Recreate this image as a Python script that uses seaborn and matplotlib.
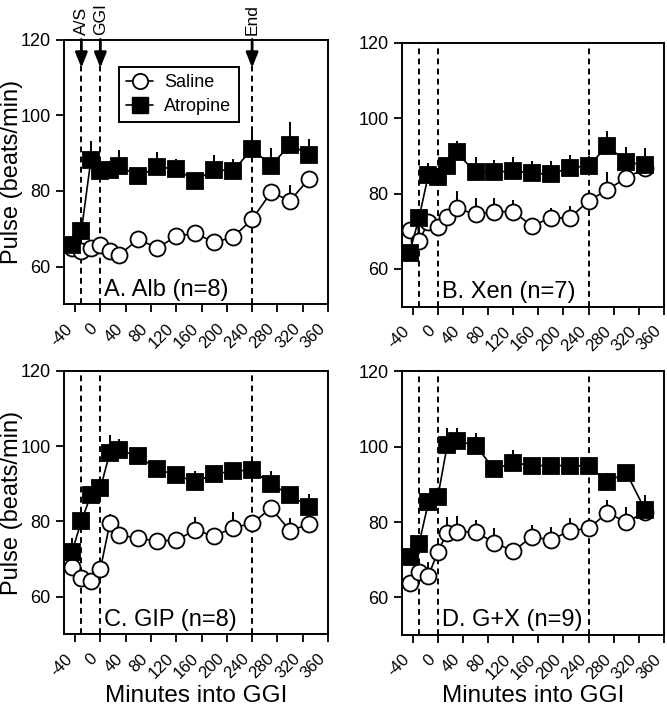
import numpy as np
import pandas as pd
import matplotlib
matplotlib.use("Agg")
import matplotlib.pyplot as plt
from matplotlib.lines import Line2D
import seaborn as sns

sns.set_style("ticks")
plt.rcParams["font.family"] = ["Liberation Sans", "DejaVu Sans"]
plt.rcParams["text.color"] = "black"
plt.rcParams["axes.labelcolor"] = "black"
plt.rcParams["xtick.color"] = "black"
plt.rcParams["ytick.color"] = "black"

# ---------------- data ----------------
times = [-45, -30, -15, 0, 15, 30, 60, 90, 120, 150, 180, 210, 240, 270, 300, 330]

alb_saline = [64.9, 64.2, 64.9, 65.7, 64.0, 63.1, 67.2, 64.9, 68.0, 68.8, 66.4, 67.8, 72.5, 79.6, 77.4, 83.2]
alb_saline_se = [1, 1, 1.2, 1.5, 1, 1, 1.5, 1, 1.5, 1.5, 1, 1.2, 1.5, 1.5, 4.2, 1.5]
alb_atropine = [65.7, 69.4, 88.2, 85.2, 85.6, 86.7, 83.8, 86.3, 85.8, 82.7, 85.6, 85.3, 91.1, 86.7, 92.2, 89.6]
alb_atropine_se = [1, 1, 5, 2, 2, 4, 2, 4, 2.5, 2, 4, 3, 4.5, 4.5, 6, 4]

xen_saline = [70.4, 67.4, 72.4, 71.1, 73.9, 76.1, 74.5, 75.2, 75.2, 71.4, 73.6, 73.5, 78.1, 81.0, 84.2, 86.7]
xen_saline_se = [2, 3.8, 1.5, 1, 2, 4.7, 4.2, 3.5, 3, 2, 2.6, 3.3, 1.5, 4.6, 2.5, 1]
xen_atropine = [64.3, 73.5, 85.0, 84.5, 87.2, 90.9, 85.6, 85.6, 86.1, 85.4, 85.1, 86.9, 87.3, 92.7, 88.3, 87.6]
xen_atropine_se = [1, 2.5, 3, 2, 2, 3, 4, 3.4, 3.5, 3.3, 3.5, 3.4, 2.6, 3.8, 4, 4.5]

gip_saline = [68.0, 65.1, 64.2, 67.3, 79.5, 76.4, 75.5, 74.8, 75.0, 77.7, 76.1, 78.3, 79.5, 83.5, 77.5, 79.3]
gip_saline_se = [1, 1, 1, 1, 2.5, 1.5, 1, 1, 1, 3.5, 1, 4.2, 1.5, 2, 3.3, 1]
gip_atropine = [71.8, 80.1, 87.0, 88.8, 98.2, 98.9, 97.3, 93.8, 92.3, 90.5, 92.5, 93.4, 93.6, 89.9, 87.0, 83.9]
gip_atropine_se = [3.9, 2, 2, 2, 4.6, 3.1, 2, 2, 2.5, 3, 2, 2, 3, 3.5, 2.2, 3.5]

gx_saline = [63.7, 66.6, 65.7, 72.1, 77.2, 77.4, 77.4, 74.5, 72.3, 76.1, 75.2, 77.7, 78.3, 82.5, 79.9, 82.7]
gx_saline_se = [1, 1.5, 3.8, 1.5, 4.1, 4.2, 3.1, 4, 2, 3, 3.5, 3.3, 2, 3.4, 4.2, 1]
gx_atropine = [70.6, 74.2, 85.2, 86.7, 100.4, 101.6, 100.3, 94.0, 95.8, 95.0, 95.0, 95.0, 94.9, 90.7, 93.1, 83.2]
gx_atropine_se = [1, 1.5, 2, 2, 4.5, 3.5, 3.3, 1.5, 3.4, 2, 2, 2, 2, 2.2, 1, 4]

panel_titles = ["A. Alb (n=8)", "B. Xen (n=7)", "C. GIP (n=8)", "D. G+X (n=9)"]
event_times = [-30, 0, 240]
event_labels = ["A/S", "GGI", "End"]
xtick_vals = list(range(-40, 361, 40))
ytick_vals = [60, 80, 100, 120]
series_names = ["Saline", "Atropine"]

panels = [
    (alb_saline, alb_saline_se, alb_atropine, alb_atropine_se),
    (xen_saline, xen_saline_se, xen_atropine, xen_atropine_se),
    (gip_saline, gip_saline_se, gip_atropine, gip_atropine_se),
    (gx_saline, gx_saline_se, gx_atropine, gx_atropine_se),
]

# ---------------- layout ----------------
W, H = 667, 708
fig = plt.figure(figsize=(W / 100, H / 100), dpi=100)


def rect(l, t, r, b):
    return [l / W, 1 - b / H, (r - l) / W, (b - t) / H]


rects = [rect(64, 39.5, 328, 304.4), rect(401.7, 42.7, 664, 306.7),
         rect(64, 370.7, 328, 634.4), rect(401.7, 371.4, 664, 635)]

for i, (sal, sal_se, atr, atr_se) in enumerate(panels):
    ax = fig.add_axes(rects[i])
    df = pd.DataFrame({"time": times * 2,
                       "pulse": sal + atr,
                       "se": sal_se + atr_se,
                       "treatment": ["Saline"] * len(times) + ["Atropine"] * len(times)})

    for xv in event_times:
        ax.axvline(xv, color="black", lw=1.4, ls=(0, (3, 2.2)), zorder=1)

    for name, mk, fc, ms in [("Saline", "o", "white", 11.5), ("Atropine", "s", "black", 12)]:
        d = df[df["treatment"] == name]
        ax.errorbar(d["time"], d["pulse"], yerr=[np.zeros(len(d)), d["se"]],
                    fmt="none", ecolor="black", elinewidth=1.4, capsize=0, zorder=2)
        sns.lineplot(data=d, x="time", y="pulse", ax=ax, color="black", lw=1.2,
                     marker=mk, markersize=ms, markerfacecolor=fc,
                     markeredgecolor="black", markeredgewidth=1.3,
                     zorder=3, legend=False)

    ax.set_xlim(-57.5, 360)
    ax.set_ylim(50, 120)
    ax.set_yticks(ytick_vals)
    ax.set_yticklabels([str(v) for v in ytick_vals])
    ax.set_xticks(xtick_vals)
    ax.set_xticklabels([str(v) for v in xtick_vals], rotation=45, ha="right")
    ax.tick_params(axis="both", direction="out", length=6, width=1.3,
                   colors="black")
    ax.tick_params(axis="y", labelsize=13)
    ax.tick_params(axis="x", labelsize=12, pad=6)
    for s in ax.spines.values():
        s.set_visible(True)
        s.set_linewidth(1.4)
        s.set_color("black")

    ax.text(6, 52.3, panel_titles[i], fontsize=17, ha="left", va="baseline")

    if i in (0, 2):
        ax.set_ylabel("Pulse (beats/min)", fontsize=17)
        ax.yaxis.set_label_coords(-0.155, 0.5)
    else:
        ax.set_ylabel("")
    if i in (2, 3):
        ax.set_xlabel("Minutes into GGI", fontsize=17.5)
        ax.xaxis.set_label_coords(0.5, -0.19)
    else:
        ax.set_xlabel("")

    if i == 0:
        handles = [Line2D([], [], color="black", lw=1.2, marker="o", markersize=11,
                          markerfacecolor="white", markeredgecolor="black",
                          markeredgewidth=1.3),
                   Line2D([], [], color="black", lw=1.2, marker="s", markersize=11,
                          markerfacecolor="black", markeredgecolor="black")]
        leg = ax.legend(handles, series_names, loc="upper left",
                        bbox_to_anchor=(0.209, 0.897), borderaxespad=0,
                        fontsize=13, frameon=True, fancybox=False,
                        framealpha=1, edgecolor="black", handlelength=1.5,
                        handletextpad=0.6, borderpad=0.4, labelspacing=0.4)
        leg.get_frame().set_linewidth(1.4)
        for xv, lab in zip(event_times, event_labels):
            ax.annotate("", xy=(xv, 112.5), xytext=(xv, 120),
                        arrowprops=dict(arrowstyle="-|>,head_length=0.9,head_width=0.36",
                                        color="black", lw=2, shrinkA=0, shrinkB=0),
                        annotation_clip=False, zorder=5)
            ax.text(xv, 1.018, lab, rotation=90, ha="center", va="bottom",
                    fontsize=12.5, transform=ax.get_xaxis_transform())

fig.savefig("out.png", dpi=100)
